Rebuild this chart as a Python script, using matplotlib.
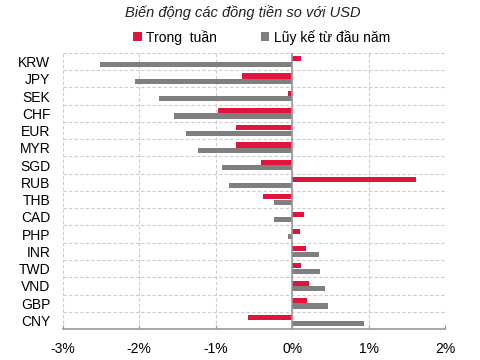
import matplotlib.pyplot as plt
import numpy as np
from matplotlib.ticker import FuncFormatter

plt.rcParams['font.family'] = ['Liberation Sans', 'DejaVu Sans']

currencies = ["KRW", "JPY", "SEK", "CHF", "EUR", "MYR", "SGD", "RUB",
              "THB", "CAD", "PHP", "INR", "TWD", "VND", "GBP", "CNY"]
week = [0.11, -0.65, -0.06, -0.97, -0.73, -0.74, -0.41, 1.62,
        -0.38, 0.16, 0.10, 0.18, 0.11, 0.22, 0.20, -0.58]
ytd = [-2.51, -2.05, -1.74, -1.54, -1.39, -1.23, -0.92, -0.82,
       -0.24, -0.24, -0.06, 0.35, 0.37, 0.43, 0.47, 0.94]

red = "#E0143C"
gray = "#7F7F7F"

fig = plt.figure(figsize=(4.8, 3.6), dpi=100)
ax = fig.add_axes([0.131, 0.086, 0.796, 0.767])

y = np.arange(len(currencies))
h = 0.3
ax.barh(y - 0.16, week, height=h, color=red, label="Trong  tuần", zorder=3)
ax.barh(y + 0.16, ytd, height=h, color=gray, label="Lũy kế từ đầu năm", zorder=3)

ax.set_xlim(-3, 2)
ax.set_ylim(len(currencies) - 0.5, -0.5)
ax.set_yticks(y)
ax.set_yticklabels(currencies, fontsize=10)
ax.set_xticks(np.arange(-3, 3))
ax.xaxis.set_major_formatter(FuncFormatter(lambda v, p: f"{v:.0f}%"))
ax.tick_params(axis='x', labelsize=10, direction='in', length=3, color="#999999", pad=9)
ax.tick_params(axis='y', length=0, pad=9)

for b in np.arange(-0.5, len(currencies), 1):
    ax.axhline(b, color="#cccccc", lw=0.8, ls=(0, (3, 2)), zorder=1)
for v in np.arange(-3, 3):
    ax.axvline(v, color="#cccccc", lw=0.8, ls=(0, (3, 2)), zorder=1)
ax.axvline(0, color="#999999", lw=1.2, zorder=4)

for s in ["top", "right", "left"]:
    ax.spines[s].set_visible(False)
ax.spines["bottom"].set_color("#999999")
ax.spines["bottom"].set_linewidth(1.2)

fig.text(0.505, 0.965, "Biến động các đồng tiền so với USD", ha="center", va="center",
         fontsize=10.5, style="italic", color="#222222")
fig.legend(loc="center", bbox_to_anchor=(0.545, 0.897), ncol=2, frameon=False,
           fontsize=10, handlelength=0.6, handleheight=0.6, handletextpad=0.3,
           columnspacing=3.2)

fig.savefig("out.png", dpi=100)
